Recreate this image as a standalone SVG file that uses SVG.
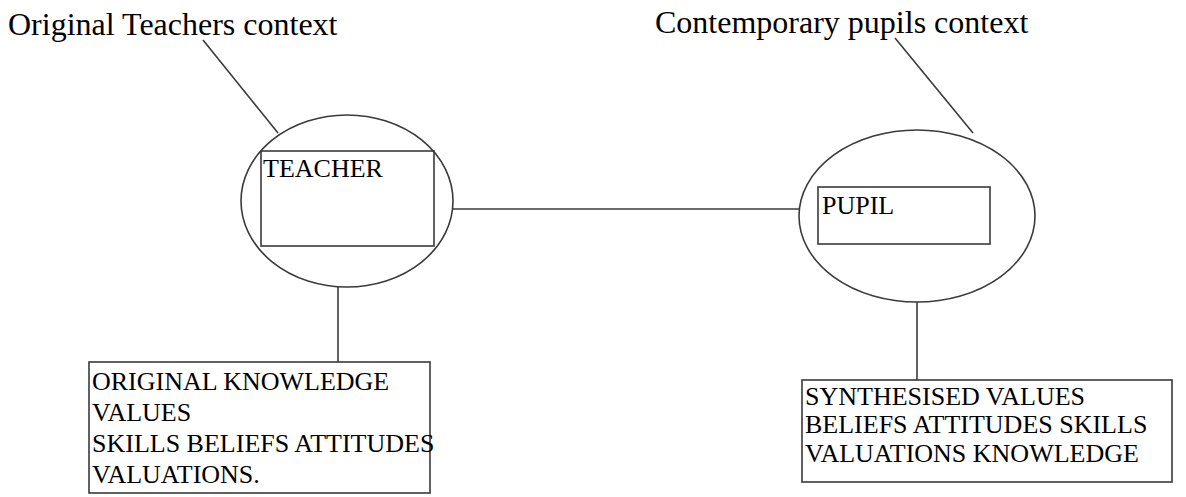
<svg xmlns="http://www.w3.org/2000/svg" width="1186" height="497" viewBox="0 0 1186 497">
<style>
.ln{stroke:#3a3a3a;stroke-width:1.6;fill:none}
.t{font-family:"Liberation Serif","Times New Roman",serif;fill:#000}
.title{font-size:32px}
.lbl{font-size:26px}
</style>
<rect width="1186" height="497" fill="#fff"/>
<g id="title-teacher-context">
<text class="t title" x="8" y="35">Original Teachers context</text>
</g>
<g id="title-pupil-context">
<text class="t title" x="655" y="33">Contemporary pupils context</text>
</g>
<g id="connectors">
<line class="ln" x1="203" y1="40" x2="278" y2="133"/>
<line class="ln" x1="895" y1="38" x2="973" y2="133"/>
<line class="ln" x1="453" y1="209" x2="799" y2="209"/>
<line class="ln" x1="338" y1="287" x2="338" y2="362"/>
<line class="ln" x1="917" y1="302" x2="917" y2="380"/>
</g>
<g id="teacher">
<ellipse class="ln" cx="347" cy="201" rx="106" ry="86"/>
<rect class="ln" x="261" y="151" width="173" height="95"/>
<text class="t lbl" x="263" y="177">TEACHER</text>
</g>
<g id="pupil">
<ellipse class="ln" cx="917" cy="216" rx="118" ry="86"/>
<rect class="ln" x="818" y="187" width="172" height="57"/>
<text class="t lbl" x="822" y="214">PUPIL</text>
</g>
<g id="teacher-values">
<rect class="ln" x="89" y="362" width="341" height="131"/>
<text class="t lbl" x="92" y="390">ORIGINAL KNOWLEDGE</text>
<text class="t lbl" x="92" y="421">VALUES</text>
<text class="t lbl" x="92" y="452">SKILLS BELIEFS ATTITUDES</text>
<text class="t lbl" x="92" y="483">VALUATIONS.</text>
</g>
<g id="pupil-values">
<rect class="ln" x="802" y="380" width="370" height="102"/>
<text class="t lbl" x="805" y="405">SYNTHESISED VALUES</text>
<text class="t lbl" x="805" y="433">BELIEFS ATTITUDES SKILLS</text>
<text class="t lbl" x="805" y="462">VALUATIONS KNOWLEDGE</text>
</g>
</svg>
